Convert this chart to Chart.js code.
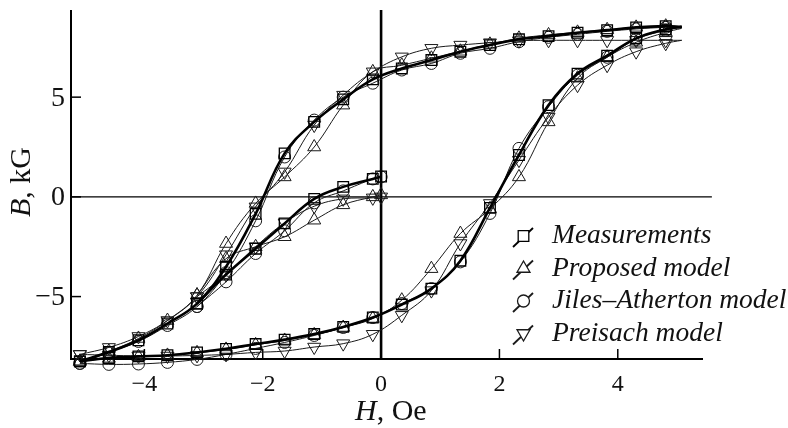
<!DOCTYPE html>
<html><head><meta charset="utf-8">
<script src="https://cdn.jsdelivr.net/npm/chart.js@4/dist/chart.umd.min.js"></script>
<style>html,body{margin:0;padding:0;background:#fff;}#wrap{width:788px;height:428px;}</style>
</head><body><div id="wrap"><canvas id="c" width="788" height="428"></canvas></div>
<script>
// ---- data (H in Oe, B in kG) ----
const H_BRANCH = [-5.09,-4.60,-4.10,-3.61,-3.11,-2.62,-2.12,-1.63,-1.13,-0.64,-0.14,0.35,0.85,1.34,1.84,2.33,2.83,3.32,3.82,4.31,4.81,5.08];
const H_INNER  = [-3.11,-2.62,-2.12,-1.63,-1.13,-0.64,-0.14,0.0];

const MEAS_ASC  = [-8.25,-8.08,-8.00,-7.94,-7.80,-7.62,-7.38,-7.16,-6.88,-6.52,-6.05,-5.40,-4.60,-3.20,-0.55,2.10,4.60,6.18,7.08,7.95,8.40,8.53];
const MEAS_DESC = [-8.25,-7.78,-7.19,-6.35,-5.35,-3.50,-0.85,2.18,3.76,4.89,5.89,6.44,6.86,7.28,7.61,7.90,8.06,8.23,8.36,8.50,8.56,8.53];
const MEAS_INNER = [-5.35,-3.90,-2.60,-1.33,-0.10,0.50,0.90,1.02];

const PROP_ASC  = [-8.25,-8.10,-8.02,-7.95,-7.82,-7.65,-7.42,-7.20,-6.92,-6.55,-6.10,-5.18,-3.60,-1.84,-0.60,1.00,3.76,5.95,7.00,7.75,8.25,8.45];
const PROP_DESC = [-8.25,-7.75,-7.10,-6.20,-4.93,-2.34,-0.33,1.00,2.50,4.60,6.27,6.60,6.95,7.30,7.65,7.95,8.12,8.25,8.38,8.50,8.56,8.53];
const PROP_INNER = [-4.93,-3.10,-2.50,-2.00,-1.17,-0.40,0.00,0.10];

const JA_ASC  = [-8.35,-8.40,-8.38,-8.30,-8.15,-7.90,-7.60,-7.30,-6.95,-6.55,-6.05,-5.35,-4.60,-3.26,-0.83,2.43,4.52,6.10,7.00,7.90,8.35,8.50];
const JA_DESC = [-8.35,-7.80,-7.25,-6.45,-5.50,-3.80,-1.20,2.00,3.85,5.00,5.70,6.36,6.69,7.20,7.45,7.78,8.00,8.15,8.30,8.42,8.50,8.50];
const JA_INNER = [-5.50,-4.26,-2.84,-1.70,-0.30,0.30,0.90,1.00];

const PREI_ASC  = [-7.90,-7.94,-7.98,-7.98,-7.95,-7.90,-7.80,-7.73,-7.53,-7.36,-6.89,-5.94,-4.70,-2.34,-0.33,1.84,4.00,5.60,6.60,7.28,7.70,7.85];
const PREI_DESC = [-7.90,-7.55,-7.00,-6.20,-5.00,-2.90,-0.50,1.25,3.60,5.10,6.27,7.02,7.45,7.61,7.73,7.83,7.85,7.85,7.85,7.85,7.85,7.85];
const PREI_INNER = [-5.00,-3.90,-2.50,-1.30,-0.47,-0.10,-0.05,0.00];

const SERIES_LABELS = ['Measurements','Proposed model','Jiles\u2013Atherton model','Preisach model'];
const X_TICKS = [-4,-2,0,2,4];
const Y_TICKS = [-5,0,5];

// ---- styles ----
const STY = [
  {pointStyle:'rect', rotation:0, r:7.5, lw:2.6, pbw:1.3, color:'#000'},
  {pointStyle:'triangle', rotation:0, r:7.5, lw:1, pbw:1, color:'#1a1a1a'},
  {pointStyle:'circle', rotation:0, r:6, lw:1, pbw:1, color:'#1a1a1a'},
  {pointStyle:'triangle', rotation:180, r:7.5, lw:1, pbw:1, color:'#1a1a1a'}
];
const SETS = [
  [MEAS_ASC, MEAS_DESC, MEAS_INNER],
  [PROP_ASC, PROP_DESC, PROP_INNER],
  [JA_ASC, JA_DESC, JA_INNER],
  [PREI_ASC, PREI_DESC, PREI_INNER]
];

function mk(si, xs, ys, tipless) {
  const s = STY[si];
  return {
    label: SERIES_LABELS[si],
    data: xs.map((x, i) => ({x: x, y: ys[i]})),
    showLine: true,
    tension: 0.4,
    borderColor: s.color,
    borderWidth: s.lw,
    pointStyle: s.pointStyle,
    rotation: s.rotation,
    pointRadius: ctx => (tipless && ctx.dataIndex === xs.length - 1) ? 0 : s.r,
    pointBorderWidth: s.pbw,
    pointBorderColor: s.color,
    pointBackgroundColor: 'rgba(0,0,0,0)',
    clip: false,
    order: si
  };
}
const datasets = [];
SETS.forEach((arrs, si) => {
  datasets.push(mk(si, H_BRANCH, arrs[0], true));
  datasets.push(mk(si, H_BRANCH, arrs[1], true));
  datasets.push(mk(si, H_INNER, arrs[2], false));
});

const SERIF = '"Liberation Serif","Times New Roman",serif';

const decor = {
  id: 'decor',
  beforeDatasetsDraw(chart) {
    const {ctx, chartArea: a, scales: {x, y}} = chart;
    ctx.save();
    ctx.strokeStyle = '#000';
    ctx.lineCap = 'butt';
    ctx.lineWidth = 1.4;
    const y0 = y.getPixelForValue(0);
    ctx.beginPath(); ctx.moveTo(a.left, y0); ctx.lineTo(x.getPixelForValue(5.59), y0); ctx.stroke();
    ctx.lineWidth = 2;
    ctx.beginPath(); ctx.moveTo(a.left, a.top); ctx.lineTo(a.left, a.bottom); ctx.lineTo(a.right, a.bottom); ctx.stroke();
    ctx.lineWidth = 2.6;
    const x0 = x.getPixelForValue(0);
    ctx.beginPath(); ctx.moveTo(x0, a.top); ctx.lineTo(x0, a.bottom); ctx.stroke();
    ctx.lineWidth = 1.5;
    Y_TICKS.forEach(v => { const p = y.getPixelForValue(v); ctx.beginPath(); ctx.moveTo(a.left, p); ctx.lineTo(a.left + 10, p); ctx.stroke(); });
    X_TICKS.forEach(v => { const p = x.getPixelForValue(v); ctx.beginPath(); ctx.moveTo(p, a.bottom); ctx.lineTo(p, a.bottom - 10); ctx.stroke(); });
    ctx.fillStyle = '#111';
    ctx.font = '28px ' + SERIF;
    ctx.textAlign = 'right'; ctx.textBaseline = 'middle';
    Y_TICKS.forEach(v => ctx.fillText(v < 0 ? '\u2212' + Math.abs(v) : String(v), a.left - 6, y.getPixelForValue(v) + 1));
    ctx.font = '24px ' + SERIF;
    ctx.textAlign = 'center'; ctx.textBaseline = 'alphabetic';
    X_TICKS.forEach(v => ctx.fillText(v < 0 ? '\u2212' + Math.abs(v) : String(v), x.getPixelForValue(v), a.bottom + 32));
    ctx.textAlign = 'left';
    const it = 'italic 30px ' + SERIF, up = '30px ' + SERIF;
    ctx.font = it; const wH = ctx.measureText('H').width;
    ctx.font = up; const wR = ctx.measureText(', Oe').width;
    const sx = 355;
    ctx.font = it; ctx.fillText('H', sx, 420);
    ctx.font = up; ctx.fillText(', Oe', sx + wH, 420);
    ctx.save();
    ctx.translate(30, 182); ctx.rotate(-Math.PI / 2);
    ctx.font = it; const wB = ctx.measureText('B').width;
    ctx.font = up; const wK = ctx.measureText(', kG').width;
    const sy = -(wB + wK) / 2;
    ctx.font = it; ctx.fillText('B', sy, 0);
    ctx.font = up; ctx.fillText(', kG', sy + wB, 0);
    ctx.restore();
    ctx.restore();
  },
  afterDatasetsDraw(chart) {
    const ctx = chart.ctx;
    ctx.save();
    const base = [243, 275.5, 308, 340.5];
    SERIES_LABELS.forEach((lab, i) => {
      const s = STY[i], b = base[i];
      ctx.strokeStyle = s.color; ctx.lineWidth = 1.8;
      ctx.beginPath(); ctx.moveTo(513, b + 4); ctx.lineTo(533, b - 15); ctx.stroke();
      ctx.lineWidth = 1.3;
      ctx.fillStyle = 'rgba(255,255,255,1)';
      Chart.helpers.drawPoint(ctx, {pointStyle: s.pointStyle, rotation: s.rotation, radius: s.r, borderWidth: 1.3}, 523.5, b - 7);
      ctx.fillStyle = '#111';
      ctx.font = 'italic 27.5px ' + SERIF;
      ctx.textAlign = 'left'; ctx.textBaseline = 'alphabetic';
      ctx.fillText(lab, 552, b);
    });
    ctx.restore();
  }
};

new Chart(document.getElementById('c'), {
  type: 'scatter',
  data: {datasets},
  options: {
    responsive: false,
    animation: false,
    devicePixelRatio: 1,
    layout: {padding: {left: 71, right: 85, top: 10, bottom: 69}},
    plugins: {legend: {display: false}, tooltip: {enabled: false}},
    scales: {
      x: {type: 'linear', min: -5.24, max: 5.44, display: false},
      y: {type: 'linear', min: -8.13, max: 9.37, display: false}
    }
  },
  plugins: [decor]
});
</script></body></html>
